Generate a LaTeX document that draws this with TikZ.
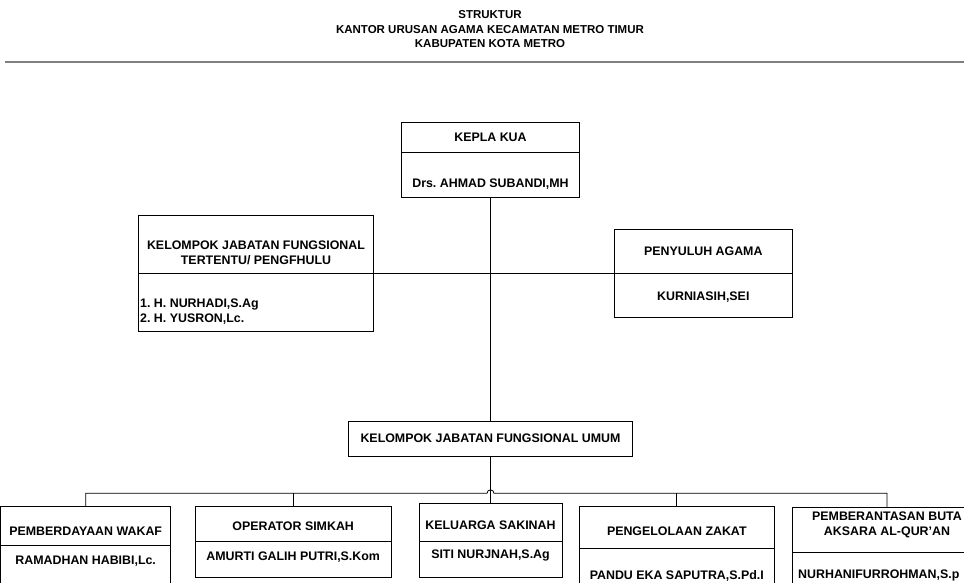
\documentclass[tikz,border=0pt]{standalone}
\usepackage{fontspec}
\setmainfont{Liberation Sans}
\usetikzlibrary{positioning}
\frenchspacing

\begin{document}
\begin{tikzpicture}[
    x=1pt, y=-1pt,
    % Boxes: plain black outline, size given per box
    boxStyle/.style={
        draw,
        line width=0.8pt,
        inner sep=0pt
    },
    % Texts inside the boxes
    textStyle/.style={
        font=\bfseries\fontsize{12.4}{15}\selectfont,
        inner sep=0pt,
        align=center
    },
    titleStyle/.style={
        font=\bfseries\fontsize{11.5}{14.5}\selectfont,
        inner sep=0pt,
        align=center
    },
    lineStyle/.style={
        line width=0.8pt
    }
]
\useasboundingbox (0,0) rectangle (964,583);
\clip (0,0) rectangle (964,583);

%--- Title ---
\node[titleStyle] (title) at (490,29.5)
  {STRUKTUR\\KANTOR URUSAN AGAMA KECAMATAN METRO TIMUR\\KABUPATEN KOTA METRO};
\coordinate (ruleL) at (5,62);
\coordinate (ruleR) at (964,62);
\draw[gray, line width=2pt] (ruleL) -- (ruleR);

%--- Top box ---
\node[boxStyle, minimum width=178, minimum height=30] (kuaHead) at (490.5,137) {};
\node[boxStyle, minimum width=178, minimum height=45] (kuaName) at (490.5,174.5) {};
\node[textStyle] (kuaT)  at (490.5,137) {KEPLA KUA};
\node[textStyle] (kuaN)  at (490.5,184) {Drs. AHMAD SUBANDI,MH};

%--- Middle row ---
\node[boxStyle, minimum width=235, minimum height=58.3] (tertentuHead) at (255.8,244.2) {};
\node[boxStyle, minimum width=235, minimum height=58.4] (tertentuName) at (255.8,302.5) {};
\node[textStyle] (tertentuT) at (256,252.5)
  {KELOMPOK JABATAN FUNGSIONAL\\TERTENTU/ PENGFHULU};
\node[textStyle, align=left, anchor=west] (tertentuN) at (140,312)
  {1. H. NURHADI,S.Ag\\2. H. YUSRON,Lc.};

\node[boxStyle, minimum width=178, minimum height=44.3] (penyuluhHead) at (703.3,251.2) {};
\node[boxStyle, minimum width=178, minimum height=44.4] (penyuluhName) at (703.3,295.5) {};
\node[textStyle] (penyuluhT) at (703.3,251) {PENYULUH AGAMA};
\node[textStyle] (penyuluhN) at (703.3,297) {KURNIASIH,SEI};

\node[boxStyle, minimum width=284, minimum height=35] (umum) at (490.5,438.5) {};
\node[textStyle] (umumT) at (490.5,438.5) {KELOMPOK JABATAN FUNGSIONAL UMUM};

%--- Bottom row ---
\node[boxStyle, minimum width=170, minimum height=38.8] (wakafHead) at (85.7,526.1) {};
\node[boxStyle, minimum width=170, minimum height=74.5] (wakafName) at (85.7,582.75) {};
\node[textStyle] (wakafT) at (85.7,531) {PEMBERDAYAAN WAKAF};
\node[textStyle] (wakafN) at (85.7,561) {RAMADHAN HABIBI,Lc.};

\node[boxStyle, minimum width=195.7, minimum height=35] (operatorHead) at (293.2,524.2) {};
\node[boxStyle, minimum width=195.7, minimum height=36] (operatorName) at (293.2,559.7) {};
\node[textStyle] (operatorT) at (293.2,526.7) {OPERATOR SIMKAH};
\node[textStyle] (operatorN) at (293.2,556.7) {AMURTI GALIH PUTRI,S.Kom};

\node[boxStyle, minimum width=143, minimum height=37.7] (keluargaHead) at (490.5,522.2) {};
\node[boxStyle, minimum width=143, minimum height=36.3] (keluargaName) at (490.5,559.15) {};
\node[textStyle] (keluargaT) at (490.5,525.7) {KELUARGA SAKINAH};
\node[textStyle] (keluargaN) at (490.5,555) {SITI NURJNAH,S.Ag};

\node[boxStyle, minimum width=195, minimum height=41.6] (zakatHead) at (676.8,527.5) {};
\node[boxStyle, minimum width=195, minimum height=71.7] (zakatName) at (676.8,584.15) {};
\node[textStyle] (zakatT) at (676.8,531) {PENGELOLAAN ZAKAT};
\node[textStyle] (zakatN) at (676.8,576) {PANDU EKA SAPUTRA,S.Pd.I};

\node[boxStyle, minimum width=188.6, minimum height=45] (butaHead) at (887,529.8) {};
\node[boxStyle, minimum width=188.6, minimum height=68] (butaName) at (887,586.3) {};
\node[textStyle] (butaT) at (887,524.5) {PEMBERANTASAN BUTA\\AKSARA AL-QUR'AN};
\node[textStyle, anchor=west] (butaN) at (798,575) {NURHANIFURROHMAN,S.p};

%-----------------------
%        Lines
%-----------------------
\coordinate (bus) at (490.5,493.3);

% (1) Kepala -> umum
\draw[lineStyle] (kuaName.south) -- (umum.north);

% (2) Side boxes
\draw[lineStyle] (tertentuHead.south east) -- (penyuluhHead.south west);

% (3) Umum -> bottom row
\draw[lineStyle] (umum.south) -- (keluargaHead.north);
\draw[lineStyle] (wakafHead.north) |- ([xshift=-3.5pt]bus)
  arc[start angle=180, end angle=0, radius=3.5pt] -| (butaHead.north);
\draw[lineStyle] (operatorHead.north) -- (operatorHead.north |- bus);
\draw[lineStyle] (zakatHead.north) -- (zakatHead.north |- bus);
\end{tikzpicture}
\end{document}
